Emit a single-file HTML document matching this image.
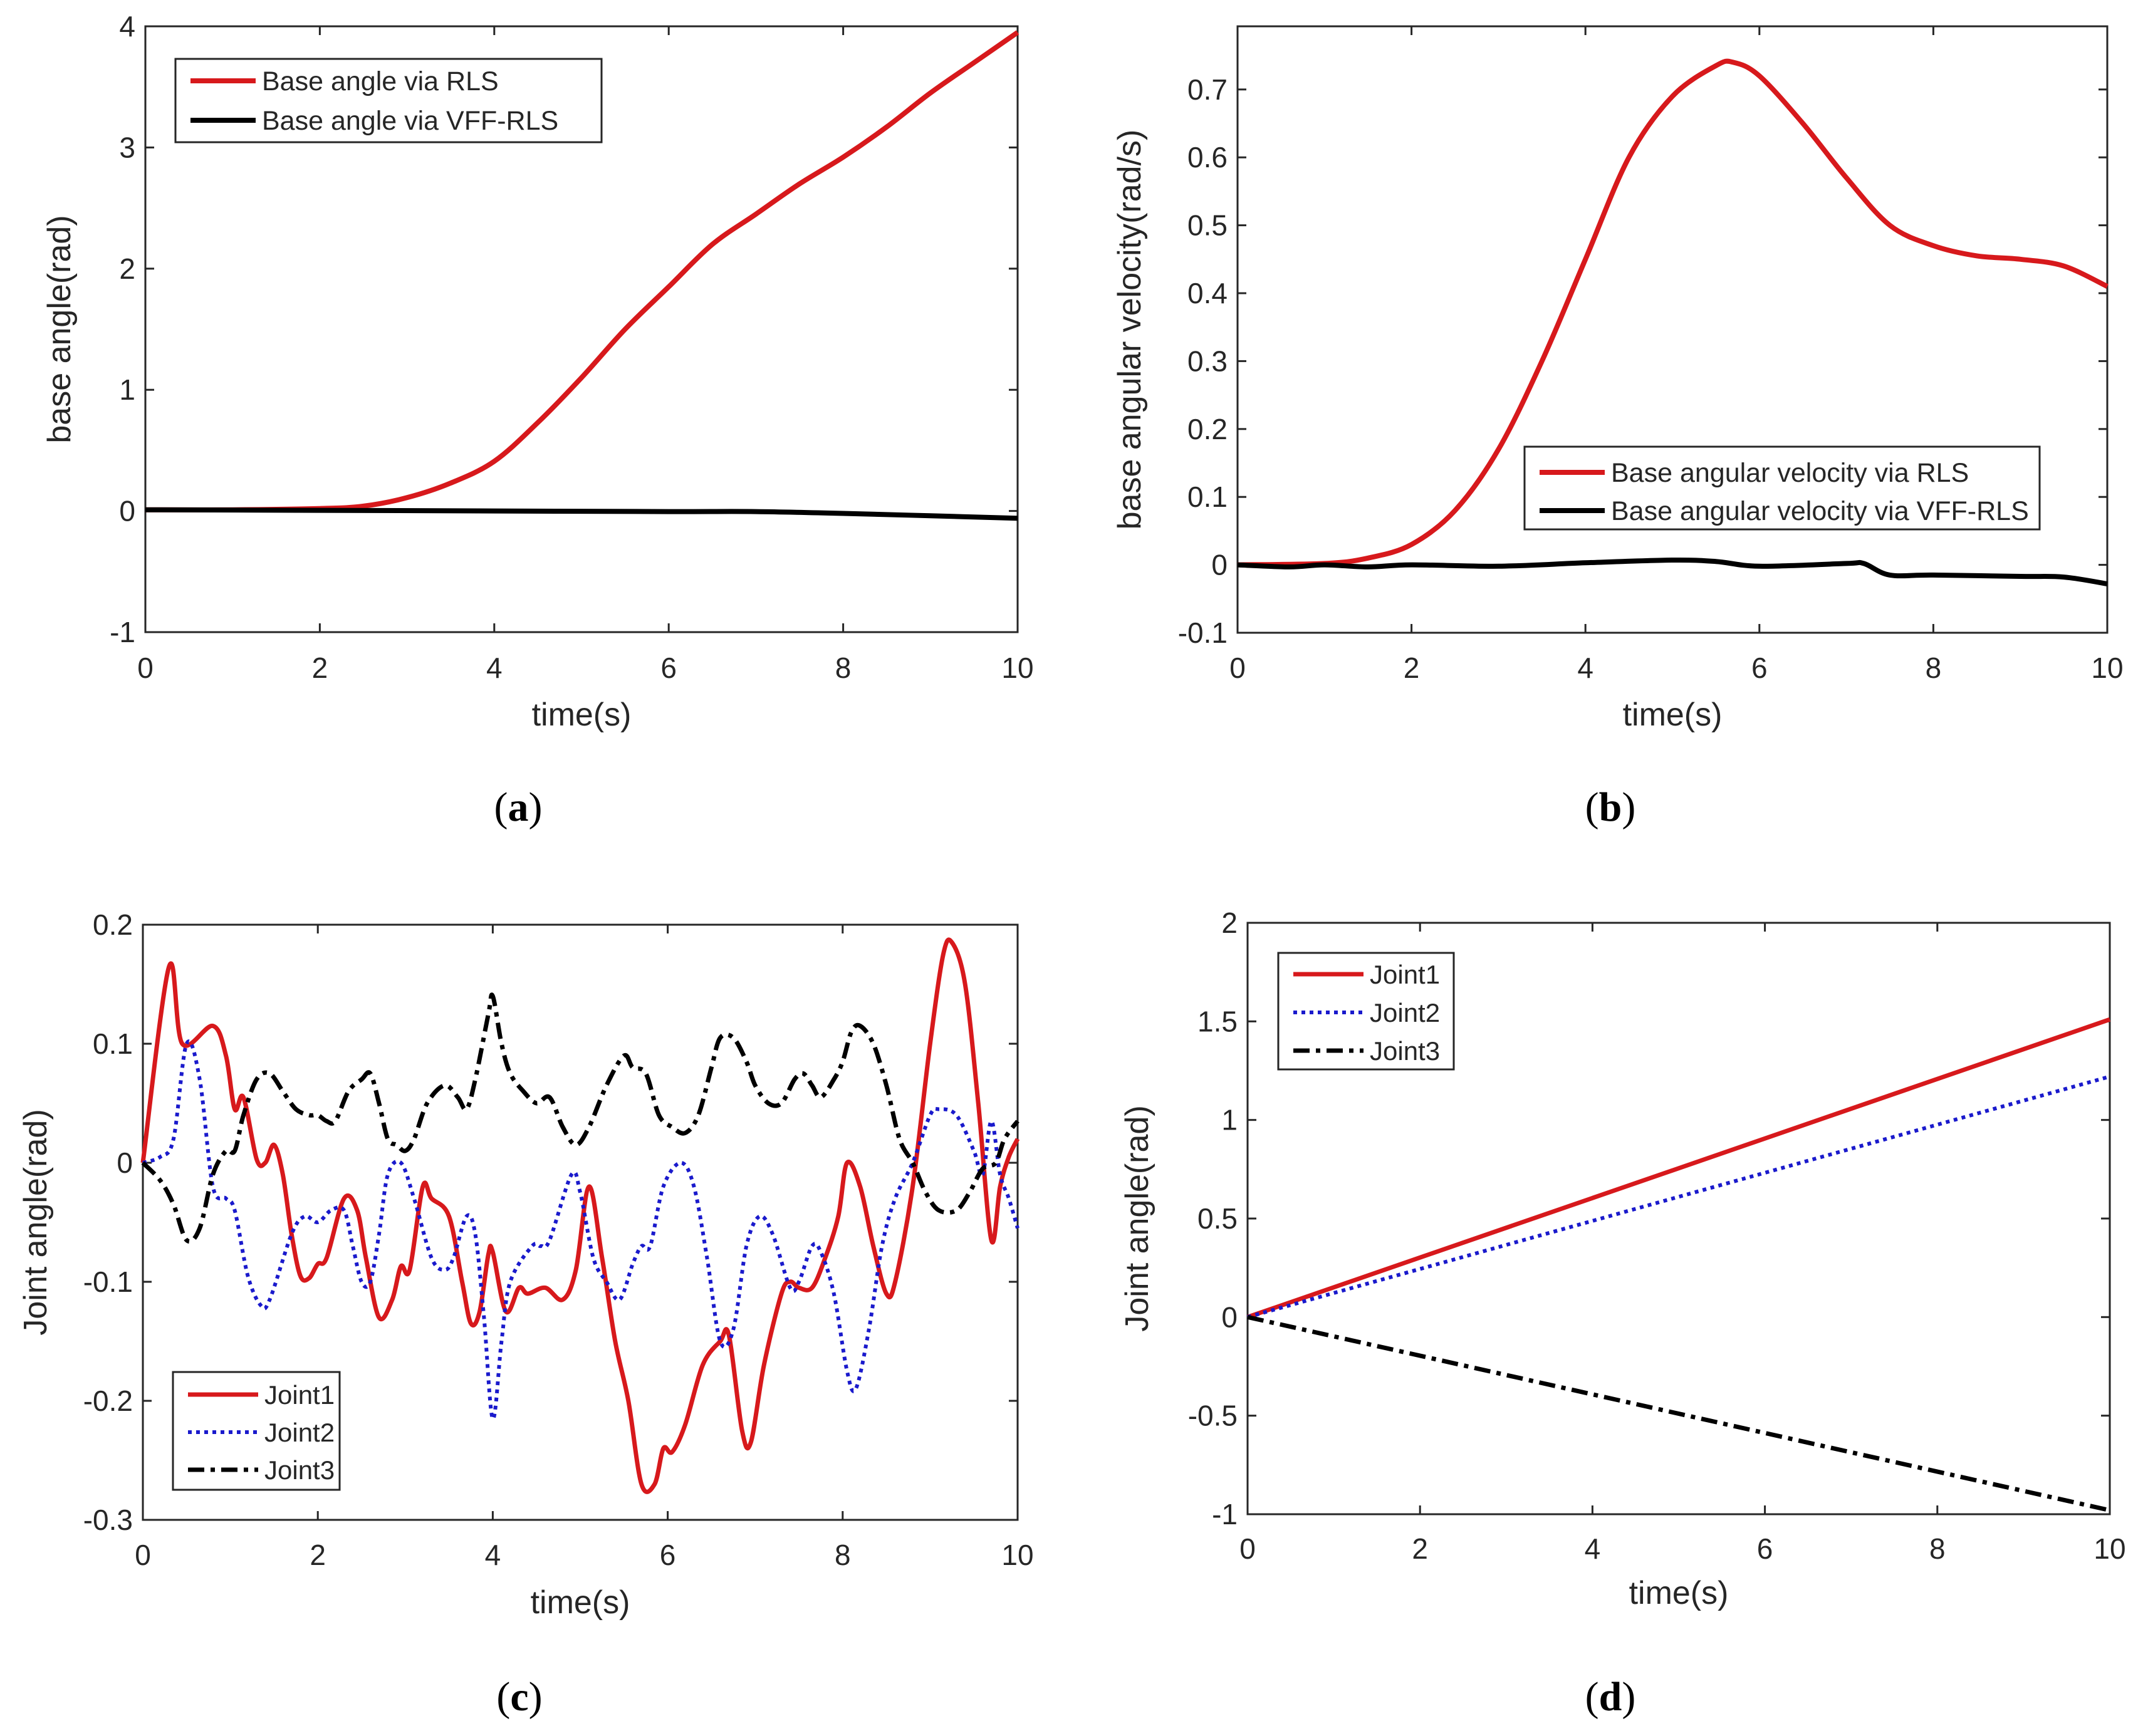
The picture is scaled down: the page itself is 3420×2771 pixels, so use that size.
<!DOCTYPE html>
<html><head><meta charset="utf-8">
<style>
html,body{margin:0;padding:0;background:#fff;}
svg{display:block;}
text{font-family:"Liberation Sans",sans-serif;fill:#262626;}
.cap{font-family:"Liberation Serif",serif;font-size:66px;fill:#000;}
</style></head>
<body>
<svg id="fig" width="3420" height="2771" viewBox="0 0 3420 2771" xmlns="http://www.w3.org/2000/svg"></svg>
<script>
// ---- data ----
const aT = [0,1,2,2.5,3,3.5,4,4.5,5,5.5,6,6.5,7,7.5,8,8.5,9,9.5,10];
const aRLS = [0.01,0.01,0.02,0.04,0.11,0.23,0.41,0.73,1.1,1.5,1.85,2.2,2.45,2.7,2.92,3.17,3.45,3.7,3.95];
const aVT = [0,2,4,6,7,8,9,10];
const aVFF = [0.01,0.005,0.0,-0.005,-0.005,-0.02,-0.04,-0.06];

const bT = [0,1,1.5,2,2.5,3,3.5,4,4.5,5,5.5,5.7,6,6.5,7,7.5,8,8.5,9,9.5,10];
const bRLS = [0,0.002,0.01,0.03,0.08,0.17,0.3,0.45,0.6,0.69,0.735,0.74,0.72,0.65,0.57,0.5,0.47,0.455,0.45,0.44,0.41];
const bVT = [0,0.6,1,1.5,2,3,4,5,5.5,6,7,7.2,7.5,8,9,9.5,10];
const bVFF = [0,-0.003,0,-0.003,0,-0.002,0.003,0.007,0.005,-0.002,0.002,0.002,-0.015,-0.015,-0.017,-0.018,-0.028];

const c1T = [0,0.3,0.45,0.8,0.95,1.05,1.15,1.3,1.4,1.5,1.6,1.7,1.8,1.9,2.0,2.1,2.3,2.45,2.55,2.7,2.85,2.95,3.05,3.2,3.3,3.5,3.65,3.75,3.85,3.95,4.0,4.15,4.3,4.4,4.6,4.8,4.95,5.1,5.25,5.4,5.55,5.7,5.85,5.95,6.05,6.2,6.4,6.6,6.7,6.85,6.95,7.1,7.3,7.4,7.5,7.65,7.8,7.95,8.05,8.2,8.35,8.5,8.6,8.8,9.0,9.15,9.25,9.4,9.55,9.7,9.8,9.9,10];
const c1 = [0,0.165,0.1,0.115,0.09,0.045,0.055,0.003,0.0,0.015,-0.01,-0.06,-0.095,-0.097,-0.085,-0.08,-0.03,-0.04,-0.08,-0.13,-0.115,-0.087,-0.09,-0.02,-0.03,-0.045,-0.1,-0.135,-0.125,-0.077,-0.075,-0.125,-0.105,-0.11,-0.105,-0.115,-0.09,-0.02,-0.08,-0.15,-0.2,-0.27,-0.27,-0.24,-0.243,-0.22,-0.17,-0.15,-0.145,-0.225,-0.235,-0.17,-0.11,-0.1,-0.105,-0.105,-0.08,-0.045,0.0,-0.02,-0.07,-0.11,-0.1,-0.02,0.1,0.175,0.185,0.15,0.05,-0.065,-0.02,0.005,0.02];
const c2T = [0,0.2,0.35,0.5,0.65,0.8,0.95,1.05,1.2,1.35,1.45,1.7,1.85,2.0,2.15,2.3,2.4,2.5,2.6,2.7,2.8,2.95,3.1,3.3,3.45,3.55,3.7,3.8,3.9,4.0,4.1,4.2,4.45,4.55,4.65,4.9,5.0,5.15,5.3,5.45,5.6,5.7,5.8,5.95,6.15,6.3,6.45,6.6,6.75,6.9,7.05,7.2,7.4,7.5,7.65,7.75,7.9,8.05,8.15,8.3,8.45,8.6,8.8,9.0,9.1,9.3,9.5,9.6,9.7,9.8,9.9,10];
const c2 = [0,0.005,0.02,0.1,0.07,-0.02,-0.03,-0.04,-0.095,-0.12,-0.115,-0.06,-0.045,-0.05,-0.04,-0.04,-0.07,-0.1,-0.1,-0.06,-0.01,0.0,-0.03,-0.08,-0.09,-0.08,-0.045,-0.06,-0.13,-0.215,-0.15,-0.1,-0.07,-0.07,-0.065,-0.01,-0.025,-0.08,-0.1,-0.115,-0.085,-0.07,-0.07,-0.02,0.0,-0.02,-0.08,-0.15,-0.14,-0.07,-0.045,-0.06,-0.105,-0.1,-0.07,-0.075,-0.11,-0.175,-0.19,-0.14,-0.07,-0.03,0.0,0.04,0.045,0.04,0.01,-0.01,0.035,-0.01,-0.03,-0.055];
const c3T = [0,0.2,0.35,0.5,0.65,0.8,0.95,1.05,1.15,1.3,1.45,1.6,1.75,1.9,2.0,2.1,2.2,2.35,2.5,2.6,2.7,2.8,2.9,3.0,3.1,3.25,3.45,3.6,3.7,3.8,3.95,4.0,4.1,4.2,4.35,4.5,4.65,4.8,4.95,5.1,5.3,5.5,5.6,5.75,5.9,6.05,6.2,6.35,6.5,6.6,6.75,6.9,7.0,7.15,7.3,7.45,7.55,7.65,7.75,7.9,8.0,8.1,8.2,8.35,8.5,8.65,8.8,8.95,9.1,9.3,9.45,9.6,9.75,9.85,10];
const c3 = [0,-0.015,-0.035,-0.065,-0.055,-0.01,0.01,0.01,0.04,0.07,0.075,0.06,0.045,0.04,0.04,0.035,0.035,0.06,0.07,0.075,0.05,0.02,0.015,0.01,0.02,0.05,0.065,0.055,0.045,0.07,0.125,0.14,0.1,0.075,0.06,0.05,0.055,0.03,0.015,0.03,0.065,0.09,0.08,0.075,0.04,0.03,0.025,0.04,0.08,0.105,0.105,0.085,0.065,0.05,0.05,0.07,0.075,0.065,0.055,0.07,0.085,0.11,0.115,0.1,0.065,0.02,0.0,-0.025,-0.04,-0.04,-0.025,-0.005,0.0,0.02,0.035];

const dT = [0,10];
const d1 = [0,1.51];
const d2 = [0,1.22];
const d3 = [0,-0.98];

const xTicks = [0,2,4,6,8,10];
const aYTicks = [-1,0,1,2,3,4];
const bYTicks = [-0.1,0,0.1,0.2,0.3,0.4,0.5,0.6,0.7];
const cYTicks = [-0.3,-0.2,-0.1,0,0.1,0.2];
const dYTicks = [-1,-0.5,0,0.5,1,1.5,2];

// ---- drawing ----
const NS = "http://www.w3.org/2000/svg";
const svg = document.getElementById('fig');
function mk(tag, attrs, parent){
  const e = document.createElementNS(NS, tag);
  for (const k in attrs) e.setAttribute(k, attrs[k]);
  (parent||svg).appendChild(e);
  return e;
}
function panel(id, L, R, T, B, y0, y1, yTicks, yLabel, ylx, xlabY, tickY, cap, capX, capY){
  const g = mk('g', {});
  
  
  const sx = v => L + (v - 0) / 10 * (R - L);
  const sy = v => B - (v - y0) / (y1 - y0) * (B - T);
  const box = mk('rect', {x:L, y:T, width:R-L, height:B-T, fill:'#fff', stroke:'#262626', 'stroke-width':3}, g);
  
  
  xTicks.forEach(v => {
    const x = sx(v);
    mk('line', {x1:x, x2:x, y1:B, y2:B-14, stroke:'#262626','stroke-width':3}, g);
    mk('line', {x1:x, x2:x, y1:T, y2:T+14, stroke:'#262626','stroke-width':3}, g);
    const t = mk('text', {x:x, y:tickY, 'font-size':46, 'text-anchor':'middle'}, g);
    t.textContent = v;
    
    
  });
  yTicks.forEach(v => {
    const y = sy(v);
    mk('line', {x1:L, x2:L+14, y1:y, y2:y, stroke:'#262626','stroke-width':3}, g);
    mk('line', {x1:R, x2:R-14, y1:y, y2:y, stroke:'#262626','stroke-width':3}, g);
    const t = mk('text', {x:L-16, y:y+16, 'font-size':46, 'text-anchor':'end'}, g);
    t.textContent = String(v);
    
    
  });
  const xl = mk('text', {x:(L+R)/2, y:xlabY, 'font-size':52, 'text-anchor':'middle'}, g);
  xl.textContent = 'time(s)';
  
  
  const yc = (T+B)/2;
  const yl = mk('text', {x:ylx, y:yc, 'font-size':52, 'text-anchor':'middle', transform:`rotate(-90 ${ylx} ${yc})`}, g);
  yl.textContent = yLabel;
  
  
  const c = mk('text', {x:capX, y:capY, 'text-anchor':'middle', class:'cap'}, g);
  c.innerHTML = '(<tspan font-weight="bold">' + cap + '</tspan>)';
  
  
  return {g, sx, sy, L, R, T, B};
}
function smoothPath(pts){
  if (pts.length < 3) return pts.map((p,i)=>(i?'L':'M')+p[0].toFixed(1)+','+p[1].toFixed(1)).join(' ');
  let d = 'M' + pts[0][0].toFixed(1) + ',' + pts[0][1].toFixed(1);
  for (let i = 0; i < pts.length - 1; i++){
    const p0 = pts[i-1] || pts[i], p1 = pts[i], p2 = pts[i+1], p3 = pts[i+2] || pts[i+1];
    const c1x = p1[0] + (p2[0]-p0[0])/6, c1y = p1[1] + (p2[1]-p0[1])/6;
    const c2x = p2[0] - (p3[0]-p1[0])/6, c2y = p2[1] - (p3[1]-p1[1])/6;
    d += ` C${c1x.toFixed(1)},${c1y.toFixed(1)} ${c2x.toFixed(1)},${c2y.toFixed(1)} ${p2[0].toFixed(1)},${p2[1].toFixed(1)}`;
  }
  return d;
}
function series(p, xs, ys, color, dash, w, name){
  const pts = xs.map((x,i) => [p.sx(x), p.sy(ys[i])]);
  const e = mk('path', {d:smoothPath(pts), fill:'none', stroke:color, 'stroke-width':w, 'stroke-linejoin':'round', 'stroke-dasharray':dash||'none'}, p.g);
  
  
}
function legend(p, x, y, w, h, entries, fs, sampleLen, rowY){
  const lg = mk('g', {}, p.g);
  
  
  mk('rect', {x, y, width:w, height:h, fill:'#fff', stroke:'#262626', 'stroke-width':3}, lg);
  entries.forEach((en, i) => {
    const yy = rowY[i];
    const ent = mk('g', {}, lg);
    
    
    mk('line', {x1:x+24, x2:x+24+sampleLen, y1:yy, y2:yy, stroke:en[1], 'stroke-width':en[3], 'stroke-dasharray':en[2]||'none'}, ent);
    const t = mk('text', {x:x+34+sampleLen, y:yy+15, 'font-size':fs}, ent);
    t.textContent = en[0];
  });
}
const RED = '#d7191c', BLK = '#000', BLU = '#1a1acc';
const DOT = '6,7', DASHDOT = '26,10,7,10';

// (a)
const pa = panel('a', 232, 1624, 42, 1009, -1, 4, aYTicks, 'base angle(rad)', 112, 1158, 1082, 'a', 827, 1310);
series(pa, aT, aRLS, RED, null, 8, 'series-rls');
series(pa, aVT, aVFF, BLK, null, 8, 'series-vff-rls');
legend(pa, 280, 94, 680, 133, [['Base angle via RLS',RED,null,8],['Base angle via VFF-RLS',BLK,null,8]], 43, 104, [129,192]);

// (b)
const pb = panel('b', 1975, 3363, 42, 1010, -0.1, 0.793, bYTicks, 'base angular velocity(rad/s)', 1820, 1158, 1082, 'b', 2570, 1310);
series(pb, bT, bRLS, RED, null, 8, 'series-rls');
series(pb, bVT, bVFF, BLK, null, 8, 'series-vff-rls');
legend(pb, 2433, 713, 822, 132, [['Base angular velocity via RLS',RED,null,8],['Base angular velocity via VFF-RLS',BLK,null,8]], 43, 104, [754,815]);

// (c)
const pc = panel('c', 228, 1624, 1476, 2426, -0.3, 0.2, cYTicks, 'Joint angle(rad)', 74, 2575, 2498, 'c', 829, 2730);
series(pc, c1T, c1, RED, null, 7, 'series-joint1');
series(pc, c2T, c2, BLU, DOT, 6, 'series-joint2');
series(pc, c3T, c3, BLK, DASHDOT, 7, 'series-joint3');
legend(pc, 276, 2190, 266, 188, [['Joint1',RED,null,7],['Joint2',BLU,DOT,6],['Joint3',BLK,DASHDOT,7]], 42, 112, [2226,2286,2346]);

// (d)
const pd = panel('d', 1991, 3367, 1473, 2417, -1, 2, dYTicks, 'Joint angle(rad)', 1832, 2560, 2488, 'd', 2570, 2730);
series(pd, dT, d1, RED, null, 7, 'series-joint1');
series(pd, dT, d2, BLU, DOT, 6, 'series-joint2');
series(pd, dT, d3, BLK, DASHDOT, 7, 'series-joint3');
legend(pd, 2040, 1521, 280, 186, [['Joint1',RED,null,7],['Joint2',BLU,DOT,6],['Joint3',BLK,DASHDOT,7]], 42, 112, [1555,1616,1677]);
</script>
</body></html>
